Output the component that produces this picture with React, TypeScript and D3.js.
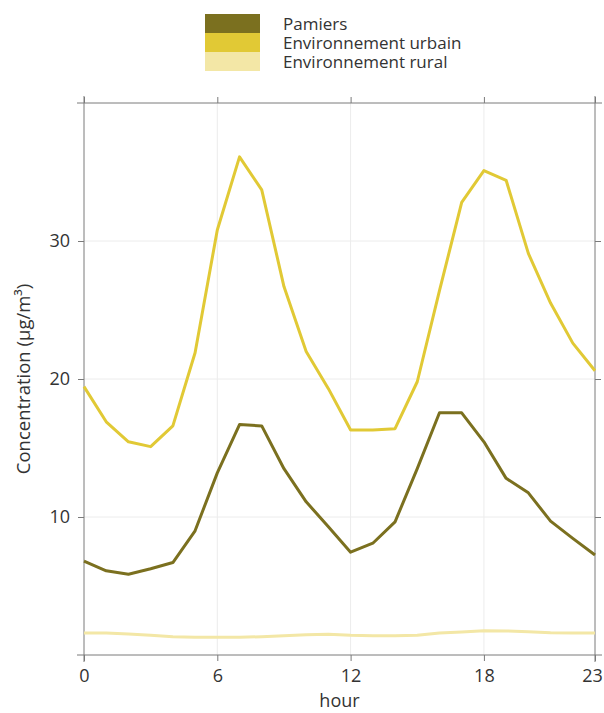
import React, { useEffect, useRef } from 'react';
import * as d3 from 'd3';

// hourly concentrations
const hours = d3.range(0, 24);
const pamiers = [6.8, 6.1, 5.85, 6.25, 6.7, 9.0, 13.2, 16.7, 16.6, 13.5, 11.1, 9.3,
  7.45, 8.1, 9.65, 13.5, 17.55, 17.55, 15.45, 12.8, 11.75, 9.7, 8.45, 7.25];
const urbain = [19.45, 16.9, 15.45, 15.1, 16.6, 21.9, 30.8, 36.1, 33.7, 26.7, 22.0, 19.3,
  16.3, 16.3, 16.4, 19.8, 26.4, 32.8, 35.1, 34.4, 29.1, 25.5, 22.6, 20.6];
const rural = [1.6, 1.6, 1.52, 1.43, 1.33, 1.28, 1.28, 1.28, 1.33, 1.4, 1.47, 1.5,
  1.43, 1.4, 1.4, 1.43, 1.59, 1.67, 1.76, 1.74, 1.69, 1.62, 1.59, 1.59];

const seriesNames = ['Pamiers', 'Environnement urbain', 'Environnement rural'];
const seriesColors = ['#7b701f', '#e1c935', '#f3e7a6'];
const xTicks = [0, 6, 12, 18, 23];
const yTicks = [10, 20, 30];

const App = () => {
  const ref = useRef(null);

  useEffect(() => {
    const margin = { top: 103, right: 9, bottom: 58, left: 84 };
    const W = 604, H = 713;
    const width = W - margin.left - margin.right;
    const height = H - margin.top - margin.bottom;
    const font = '"Open Sans", sans-serif';
    const axisColor = '#7a7a7a';
    const fontSize = '18px';

    const svg = d3.select(ref.current);
    svg.selectAll('*').remove();

    let x = d3.scaleLinear().domain([0, 23]).range([0, width]);
    let y = d3.scaleLinear().domain([0, 40]).range([height, 0]);

    let g = svg.append('g')
      .attr('transform', 'translate(' + margin.left + ',' + margin.top + ')');

    // grid
    g.selectAll('.gx')
      .data([6, 12, 18])
      .enter().append('line')
      .attr('x1', d => x(d)).attr('x2', d => x(d))
      .attr('y1', 0).attr('y2', height)
      .attr('stroke', '#ececec');
    g.selectAll('.gy')
      .data(yTicks)
      .enter().append('line')
      .attr('x1', 0).attr('x2', width)
      .attr('y1', d => y(d)).attr('y2', d => y(d))
      .attr('stroke', '#ececec');

    // axes on all four sides, ticks outwards
    const styleAxis = (sel) => {
      sel.select('.domain').remove();
      sel.selectAll('line').attr('stroke', axisColor);
      sel.selectAll('text')
        .attr('fill', '#333')
        .style('font-family', font)
        .style('font-size', fontSize);
    };
    let xAxisG = g.append('g')
      .attr('transform', 'translate(0,' + height + ')')
      .call(d3.axisBottom(x).tickValues(xTicks).tickSize(6).tickPadding(8))
      .call(styleAxis);
    // keep the last label inside the page
    xAxisG.selectAll('text').filter(d => d === 23).attr('dx', -3);
    g.append('g')
      .call(d3.axisTop(x).tickValues(xTicks).tickSize(6).tickFormat(() => ''))
      .call(styleAxis);
    g.append('g')
      .call(d3.axisLeft(y).tickValues(yTicks).tickSize(6).tickPadding(8))
      .call(styleAxis);
    g.append('g')
      .attr('transform', 'translate(' + width + ',0)')
      .call(d3.axisRight(y).tickValues(yTicks).tickSize(6).tickFormat(() => ''))
      .call(styleAxis);

    // frame, lines run a little past the corners
    const ext = 7;
    const frame = [
      [-ext, 0, width + ext, 0],
      [-ext, height, width + ext, height],
      [0, -ext, 0, height + ext],
      [width, -ext, width, height + ext],
    ];
    g.selectAll('.frame')
      .data(frame)
      .enter().append('line')
      .attr('x1', d => d[0]).attr('y1', d => d[1])
      .attr('x2', d => d[2]).attr('y2', d => d[3])
      .attr('stroke', axisColor)
      .attr('stroke-width', 1);

    // series
    let line = d3.line()
      .x((d, i) => x(hours[i]))
      .y(d => y(d));
    const allSeries = [rural, urbain, pamiers];
    const colorOf = [seriesColors[2], seriesColors[1], seriesColors[0]];
    g.selectAll('.series')
      .data(allSeries)
      .enter().append('path')
      .attr('d', d => line(d))
      .attr('fill', 'none')
      .attr('stroke', (d, i) => colorOf[i])
      .attr('stroke-width', 3)
      .attr('stroke-linejoin', 'round');

    // axis titles
    svg.append('text')
      .attr('x', margin.left + width / 2)
      .attr('y', 707)
      .attr('text-anchor', 'middle')
      .attr('fill', '#333')
      .style('font-family', font)
      .style('font-size', fontSize)
      .text('hour');
    svg.append('text')
      .attr('transform', 'translate(30,' + (margin.top + height / 2) + ') rotate(-90)')
      .attr('text-anchor', 'middle')
      .attr('fill', '#333')
      .style('font-family', font)
      .style('font-size', '18.5px')
      .text('Concentration (µg/m³)');

    // legend
    let legend = svg.append('g').attr('transform', 'translate(205,14)');
    const rowH = 19;
    legend.selectAll('rect')
      .data(seriesNames)
      .enter().append('rect')
      .attr('x', 0)
      .attr('y', (d, i) => i * rowH)
      .attr('width', 55)
      .attr('height', rowH)
      .attr('fill', (d, i) => seriesColors[i]);
    legend.selectAll('text')
      .data(seriesNames)
      .enter().append('text')
      .attr('x', 78)
      .attr('y', (d, i) => i * rowH + rowH / 2 + 1)
      .attr('dy', '0.35em')
      .attr('fill', '#333')
      .style('font-family', font)
      .style('font-size', '17px')
      .text(d => d);
  }, []);

  return (
    <svg ref={ref} width={604} height={713}
      style={{ position: 'absolute', left: 0, top: 0, background: '#fff' }} />
  );
};

export default App;
